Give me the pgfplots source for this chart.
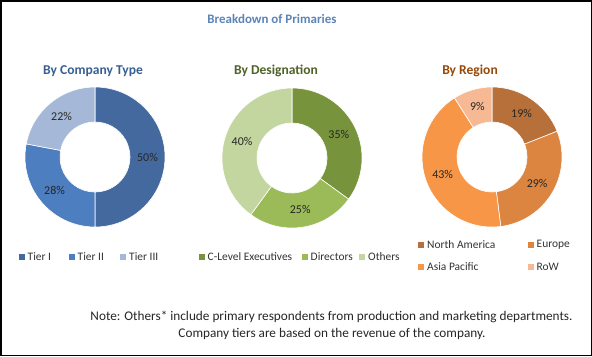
\documentclass[border=0pt]{standalone}
\usepackage{pgfplots}
\pgfplotsset{compat=1.18}
\usepackage{fontspec}
\setmainfont{Carlito}

\definecolor{tierI}{HTML}{44699E}
\definecolor{tierII}{HTML}{4C7EC0}
\definecolor{tierIII}{HTML}{A6B8D8}
\definecolor{gA}{HTML}{77933C}
\definecolor{gB}{HTML}{9BBB59}
\definecolor{gC}{HTML}{C4D6A0}
\definecolor{oA}{HTML}{B8703A}
\definecolor{oB}{HTML}{DB8541}
\definecolor{oC}{HTML}{F79646}
\definecolor{oD}{HTML}{F7B894}
\definecolor{titleblue}{HTML}{5B84B8}
\definecolor{subblue}{HTML}{376092}
\definecolor{subgreen}{HTML}{4F6228}
\definecolor{subbrown}{HTML}{984807}

\tikzset{pct/.style={font=\fontsize{12}{14}\selectfont, text=black!85},
  leg/.style={font=\fontsize{11.5}{13}\selectfont, text=black!80, anchor=west, inner sep=0pt}}

\newcommand\resetdonut{\gdef\cum{0}}
\newcommand\slice[3]{%
  \pgfmathsetmacro\aa{90-3.6*\cum}%
  \pgfmathsetmacro\ab{90-3.6*(\cum+#1)}%
  \pgfmathsetmacro\am{(\aa+\ab)/2}%
  \pgfmathsetmacro\xa{70*cos(\aa)}\pgfmathsetmacro\ya{70*sin(\aa)}%
  \pgfmathsetmacro\xb{35*cos(\ab)}\pgfmathsetmacro\yb{35*sin(\ab)}%
  \pgfmathsetmacro\xm{52.5*cos(\am)}\pgfmathsetmacro\ym{52.5*sin(\am)}%
  \edef\temp{\noexpand\fill[#2, draw=white, line width=0.6bp] (axis cs:\xa,\ya) arc[start angle=\aa, end angle=\ab, radius=70] -- (axis cs:\xb,\yb) arc[start angle=\ab, end angle=\aa, radius=35] -- cycle;
    \noexpand\node[pct] at (axis cs:\xm,\ym) {#3};}%
  \temp
  \pgfmathsetmacro\newcum{\cum+#1}\xdef\cum{\newcum}%
}
\newcommand\legitem[4]{%
  \fill[#3] (#1-3,#2-3) rectangle (#1+3,#2+3);
  \node[leg] at (#1+6,#2) {#4};
}

\pgfplotsset{donut/.style={hide axis, scale only axis, width=140bp, height=140bp,
  xmin=-70, xmax=70, ymin=-70, ymax=70, anchor=center, clip=false}}

\begin{document}
\begin{tikzpicture}[x=1bp, y=-1bp]
\useasboundingbox (0,0) rectangle (592,356);
\fill[white] (0,0) rectangle (592,356);
\draw[line width=1.5bp] (0.75,0.75) rectangle (591.25,355.25);

\node[font=\bfseries\fontsize{13}{15}\selectfont, text=titleblue] at (272,19) {Breakdown of Primaries};
\node[font=\bfseries\fontsize{13.6}{15}\selectfont, text=subblue] at (93,71) {By Company Type};
\node[font=\bfseries\fontsize{13.6}{15}\selectfont, text=subgreen] at (276,71) {By Designation};
\node[font=\bfseries\fontsize{13.6}{15}\selectfont, text=subbrown] at (470,71) {By Region};

\begin{axis}[donut, at={(95bp,-157bp)}]
\resetdonut
\slice{50}{tierI}{50\%}
\slice{28}{tierII}{28\%}
\slice{22}{tierIII}{22\%}
\end{axis}

\begin{axis}[donut, at={(292bp,-158bp)}]
\resetdonut
\slice{35}{gA}{35\%}
\slice{25}{gB}{25\%}
\slice{40}{gC}{40\%}
\end{axis}

\begin{axis}[donut, at={(492bp,-157bp)}]
\resetdonut
\slice{19}{oA}{19\%}
\slice{29}{oB}{29\%}
\slice{43}{oC}{43\%}
\slice{9}{oD}{9\%}
\end{axis}

\legitem{21.5}{257}{tierI}{Tier I}
\legitem{71.5}{257}{tierII}{Tier II}
\legitem{123}{257}{tierIII}{Tier III}
\legitem{201.5}{257}{gA}{C-Level Executives}
\legitem{304.5}{257}{gB}{Directors}
\legitem{362}{257}{gC}{Others}
\legitem{421}{245}{oA}{North America}
\legitem{530.5}{245}{oB}{Europe}
\legitem{421}{267}{oC}{Asia Pacific}
\legitem{530.5}{267}{oD}{RoW}

\node[font=\fontsize{13.3}{15}\selectfont, text=black!85] at (331.5,317) {Note: Others* include primary respondents from production and marketing departments.};
\node[font=\fontsize{13.3}{15}\selectfont, text=black!85] at (332,334) {Company tiers are based on the revenue of the company.};
\end{tikzpicture}
\end{document}
